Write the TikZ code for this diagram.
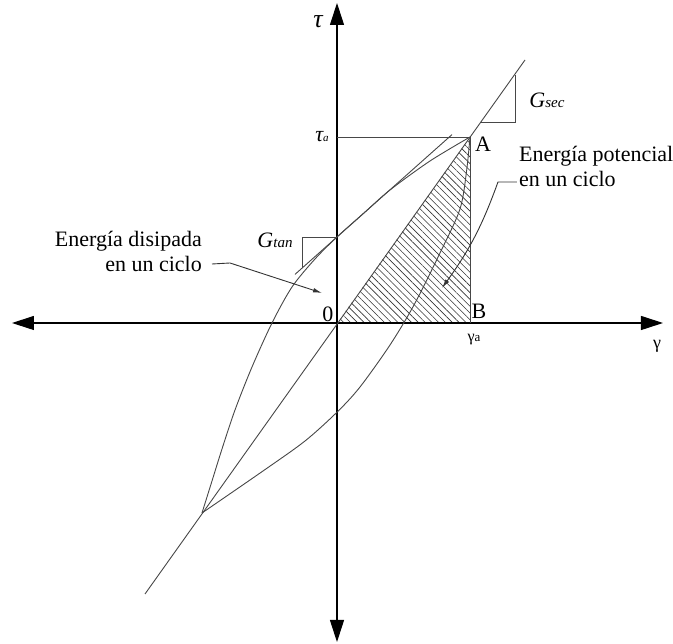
\documentclass[tikz,border=0pt]{standalone}
\usepackage{fontspec}
\setmainfont{Liberation Serif}
\usetikzlibrary{arrows.meta,patterns.meta}
\begin{document}
\begin{tikzpicture}[x=1pt,y=1pt,
  thinline/.style={draw=black!72, line width=0.9pt},
  axisline/.style={draw=black, line width=1.1pt},
  leader/.style={draw=black!80, line width=0.9pt, -{Latex[length=9pt,width=4.5pt]}},
  lbl/.style={inner sep=0pt, font=\fontsize{22}{25}\selectfont},
]
\useasboundingbox (-337,-321) rectangle (336,323);
% key points
\coordinate (O) at (0,0);
\coordinate (A) at (133,186);
\coordinate (B) at (133,0);
\coordinate (C) at (-135,-190);
\coordinate (Ta) at (0,186);
% axes ends
\coordinate (xl) at (-325,0);
\coordinate (xr) at (326,0);
\coordinate (yt) at (0,320);
\coordinate (yb) at (0,-319);
% secant line ends
\coordinate (s1) at (-192,-271);
\coordinate (s2) at (188,263);
% tangent line ends
\coordinate (t1) at (-42,48.6);
\coordinate (t2) at (115,188.4);
\coordinate (tp) at (0,86);
% slope triangles
\coordinate (gs1) at (144,201);
\coordinate (gs2) at (178,201);
\coordinate (gs3) at (178,248);
\coordinate (gt1) at (-35,54.8);
\coordinate (gt2) at (-35,86);

% hatched triangle
\path[pattern={Lines[angle=-45,distance=4.8pt,line width=0.6pt]}, pattern color=black!80]
  (O) -- (A) -- (B) -- cycle;

% axes
\draw[axisline, {Triangle[length=22pt,width=14pt]}-{Triangle[length=22pt,width=14pt]}] (xl) -- (xr);
\draw[axisline, {Triangle[length=22pt,width=14pt]}-{Triangle[length=22pt,width=14pt]}] (yb) -- (yt);

% secant, tangent, guide lines
\draw[thinline] (s1) -- (s2);
\draw[thinline] (t1) -- (t2);
\draw[thinline] (Ta) -- (A);
\draw[thinline] (A) -- (B);
\draw[thinline] (gs1) -- (gs2) -- (gs3);
\draw[thinline] (gt1) -- (gt2) -- (tp);

% hysteresis loop: unloading branch (A to C)
\draw[thinline] plot[smooth, tension=0.5] coordinates {(133,186) (129.7,153) (123,114) (103,70) (77,18) (53,-22) (23,-64) (0.2,-89) (-32,-118) (-74,-148) (-135,-190)};
% loading branch (C to A)
\draw[thinline] plot[smooth, tension=0.5] coordinates {(-135,-190) (-125,-158) (-115,-126) (-102,-87) (-85,-44) (-65,0) (-45,36) (-22,64) (0,86) (27,110) (53,133) (93,162) (133,186)};

% labels
\node[inner sep=0pt, font=\fontsize{26}{26}\selectfont\itshape] (tau) at (-19,301) {τ};
\node[inner sep=0pt] (taua) at (-15,186) {{\fontsize{22}{22}\selectfont\itshape τ}{\fontsize{11}{11}\selectfont\itshape a}};
\node[lbl] (lA) at (146,179) {A};
\node[lbl] (lB) at (142,11.5) {B};
\node[lbl] (l0) at (-9,8.5) {0};
\node[inner sep=0pt] (gama) at (137,-17) {{\fontsize{16}{16}\selectfont γ}{\fontsize{13}{13}\selectfont a}};
\node[inner sep=0pt, font=\fontsize{18}{18}\selectfont] (gam) at (320,-23.5) {γ};
\node[inner sep=0pt] (Gsec) at (210,223) {{\fontsize{22}{22}\selectfont\itshape G}{\fontsize{15}{15}\selectfont\itshape sec}};
\node[inner sep=0pt] (Gtan) at (-62,83) {{\fontsize{22}{22}\selectfont\itshape G}{\fontsize{15}{15}\selectfont\itshape tan}};

\node[lbl, align=left, anchor=base west] (pot) at (182,136) {Energía potencial\\en un ciclo};
\node[lbl, align=right, anchor=base east] (dis) at (-135,51) {Energía disipada\\en un ciclo};

% leaders
\coordinate (p1) at (180,141);
\coordinate (p2) at (161,141);
\coordinate (p3) at (105,35);
\draw[leader] (p1) -- (p2) to[bend left=8] (p3);
\coordinate (d1) at (-125,59);
\coordinate (d2) at (-107,60);
\coordinate (d3) at (-15,30);
\draw[leader] (d1) -- (d2) -- (d3);
\end{tikzpicture}
\end{document}
